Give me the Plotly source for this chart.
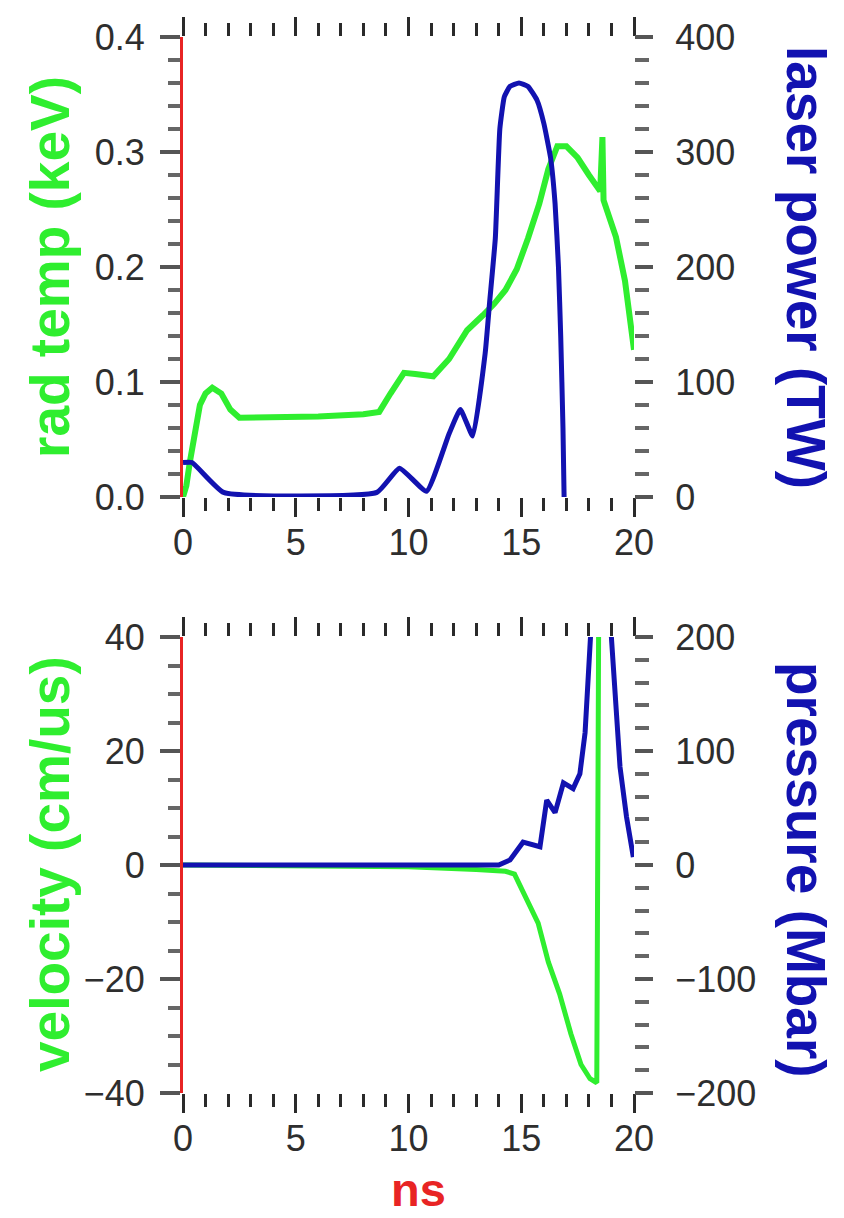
import plotly.graph_objects as go

# ---------------- data ----------------
# top panel: radiation temperature (keV) and laser power (TW) vs time (ns)
t_temp = [0, 0.15, 0.3, 0.5, 0.75, 1.0, 1.3, 1.7, 2.1, 2.5, 4, 6, 8, 8.7, 9.2, 9.8, 10.3,
          11.1, 11.8, 12.6, 13.3, 13.8, 14.3, 14.8, 15.3, 15.8, 16.2, 16.6, 17.0, 17.5,
          18.0, 18.5, 18.6, 18.65, 19.2, 19.6, 20]
rad_temp = [0, 0.01, 0.03, 0.055, 0.08, 0.09, 0.095, 0.09, 0.076, 0.069, 0.069, 0.07, 0.072,
            0.074, 0.09, 0.108, 0.107, 0.105, 0.12, 0.145, 0.158, 0.168, 0.18, 0.198, 0.225,
            0.255, 0.285, 0.305, 0.305, 0.295, 0.28, 0.266, 0.313, 0.258, 0.226, 0.188, 0.128]

t_laser = [0, 0.4, 1.8, 8.6, 9.6, 10.8, 11.8, 12.3, 12.85, 13.4, 13.6, 13.85, 14.05, 14.25,
           14.5, 14.9, 15.3, 15.7, 16.0, 16.3, 16.5, 16.65, 16.75, 16.85, 16.9]
laser_power = [30, 30, 4, 4, 25, 5, 55, 76, 53, 125, 170, 225, 320, 348, 357, 360, 357, 345,
               325, 295, 255, 200, 140, 60, 0]

# bottom panel: velocity (cm/us) and pressure (Mbar) vs time (ns)
t_vel = [0, 10, 13, 14.3, 14.7, 15.2, 15.75, 16.2, 16.7, 17.2, 17.65, 18.05, 18.35, 18.45]
velocity = [0, -0.3, -0.8, -1.1, -1.6, -5.5, -10.2, -17, -22.6, -29.6, -35, -37.5, -38.2, 60]

t_pres = [0, 14.0, 14.5, 14.8, 15.08, 15.83, 16.13, 16.5, 16.87, 17.3, 17.6, 17.83, 17.97,
          18.12, 18.5, 19.0, 19.16, 19.38, 19.67, 19.97]
pressure = [0, 0, 4.4, 13, 20, 16, 57, 46, 72, 67, 80, 116, 160, 199, 350, 199, 145, 86, 42, 7]

x_ticks = [0, 5, 10, 15, 20]
temp_ticks = [0.0, 0.1, 0.2, 0.3, 0.4]
power_ticks = [0, 100, 200, 300, 400]
vel_ticks = [-40, -20, 0, 20, 40]
pres_ticks = [-200, -100, 0, 100, 200]

# ---------------- style ----------------
GREEN = "#2fee2f"
BLUE = "#1212b0"
RED = "#e82424"
TICKC = "#2a2a2a"
TICKF = dict(family="Liberation Sans, Arial, sans-serif", size=36, color="#2e2e2e")
TITLEF = "Liberation Sans, Arial, sans-serif"

W, H = 844, 1218
XD = [183 / W, 634 / W]
TOPD = [1 - 497 / H, 1 - 37 / H]
BOTD = [1 - 1093 / H, 1 - 637 / H]

fig = go.Figure()
fig.add_trace(go.Scatter(x=t_temp, y=rad_temp, mode="lines", xaxis="x", yaxis="y",
                         line=dict(color=GREEN, width=6), showlegend=False))
fig.add_trace(go.Scatter(x=t_laser, y=laser_power, mode="lines", xaxis="x", yaxis="y2",
                         line=dict(color=BLUE, width=5, shape="spline", smoothing=0.4),
                         showlegend=False))
fig.add_trace(go.Scatter(x=t_vel, y=velocity, mode="lines", xaxis="x2", yaxis="y3",
                         line=dict(color=GREEN, width=5), showlegend=False))
fig.add_trace(go.Scatter(x=t_pres, y=pressure, mode="lines", xaxis="x2", yaxis="y4",
                         line=dict(color=BLUE, width=5), showlegend=False))


def xax(anchor):
    return dict(domain=XD, anchor=anchor, range=[0, 20], tickvals=x_ticks,
                ticktext=[str(v) for v in x_ticks], ticks="outside", ticklen=19,
                tickwidth=3, tickcolor=TICKC, mirror="ticks", showline=False,
                showgrid=False, zeroline=False, tickfont=TICKF, ticklabelstandoff=-5,
                automargin=False,
                minor=dict(dtick=1, ticks="outside", ticklen=13, tickwidth=3,
                           tickcolor=TICKC, showgrid=False))


def yleft(domain, rng, vals, texts, mdt, anchor):
    return dict(domain=domain, anchor=anchor, range=rng, tickvals=vals, ticktext=texts,
                ticks="outside", ticklen=20, tickwidth=4, tickcolor="#555",
                showline=True, linecolor=RED, linewidth=3, showgrid=False,
                zeroline=False, tickfont=TICKF, ticklabelstandoff=8, automargin=False,
                minor=dict(dtick=mdt, tick0=rng[0], ticks="outside", ticklen=12,
                           tickwidth=4, tickcolor="#666", showgrid=False))


def yright(overlay, rng, vals, texts, mdt, anchor):
    return dict(overlaying=overlay, side="right", anchor=anchor, range=rng, tickvals=vals,
                ticktext=texts, ticks="outside", ticklen=18, tickwidth=4,
                tickcolor="#555", showline=False, showgrid=False, zeroline=False,
                tickfont=TICKF, ticklabelstandoff=15, automargin=False,
                minor=dict(dtick=mdt, tick0=rng[0], ticks="outside", ticklen=14,
                           tickwidth=4, tickcolor="#666", showgrid=False))


def title(text, xpx, ypx, angle, color, size=55):
    return dict(text="<b>%s</b>" % text, x=xpx / W, y=1 - ypx / H, xref="paper",
                yref="paper", xanchor="center", yanchor="middle", textangle=angle,
                showarrow=False, font=dict(family=TITLEF, size=size, color=color))


fig.update_layout(
    width=W, height=H,
    margin=dict(l=0, r=0, t=0, b=0, pad=0, autoexpand=False),
    paper_bgcolor="white", plot_bgcolor="white",
    xaxis=xax("y"),
    xaxis2=xax("y3"),
    yaxis=yleft(TOPD, [0, 0.4], temp_ticks, ["%.1f" % v for v in temp_ticks], 0.02, "x"),
    yaxis2=yright("y", [0, 400], power_ticks, [str(v) for v in power_ticks], 20, "x"),
    yaxis3=yleft(BOTD, [-40, 40], vel_ticks,
                 [str(v).replace("-", "\u2212") for v in vel_ticks], 5, "x2"),
    yaxis4=yright("y3", [-200, 200], pres_ticks,
                  [str(v).replace("-", "\u2212") for v in pres_ticks], 20, "x2"),
    annotations=[
        title("rad temp (keV)", 50, 267, -90, GREEN),
        title("laser power (TW)", 806, 267, 90, BLUE),
        title("velocity (cm/us)", 50, 864, -90, GREEN),
        title("pressure (Mbar)", 806, 870, 90, BLUE),
        title("ns", 418, 1189, 0, RED, 47),
    ],
)

fig.write_html("out.html")
